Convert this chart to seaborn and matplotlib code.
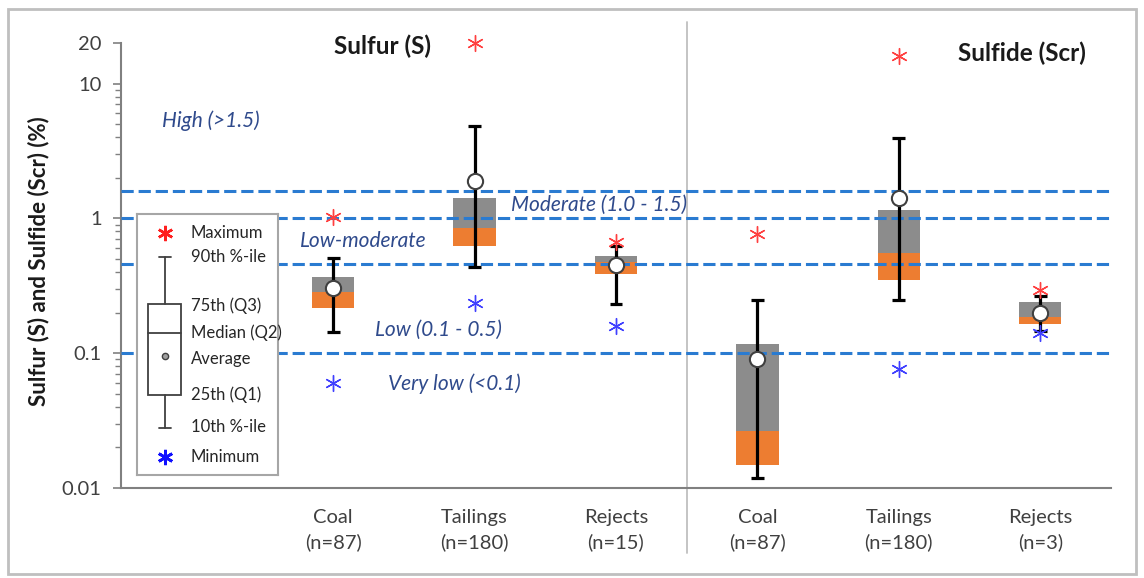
import numpy as np
import pandas as pd
import matplotlib
matplotlib.use("Agg")
import matplotlib.pyplot as plt
import matplotlib.ticker as mticker
from matplotlib.patches import Rectangle
import seaborn as sns

# ---------------- data ----------------
categories = ["Coal\n(n=87)", "Tailings\n(n=180)", "Rejects\n(n=15)",
              "Coal\n(n=87)", "Tailings\n(n=180)", "Rejects\n(n=3)"]
p10 = [0.143, 0.433, 0.23, 0.0119, 0.25, 0.147]
q1 = [0.218, 0.62, 0.384, 0.0149, 0.352, 0.166]
median = [0.282, 0.843, 0.471, 0.0267, 0.55, 0.187]
q3 = [0.365, 1.41, 0.522, 0.118, 1.15, 0.238]
p90 = [0.505, 4.82, 0.62, 0.25, 3.93, 0.264]
mean = [0.307, 1.91, 0.448, 0.0898, 1.41, 0.20]
maximum = [1.03, 20.0, 0.664, 0.76, 15.9, 0.292]
minimum = [0.0596, 0.234, 0.16, np.nan, 0.0757, 0.14]

thresholds = [1.6, 1.0, 0.455, 0.1]
ytick_vals = [0.01, 0.1, 1, 10, 20]
ytick_labels = ["0.01", "0.1", "1", "10", "20"]

df = pd.DataFrame({"cat": categories, "p10": p10, "q1": q1, "median": median,
                   "q3": q3, "p90": p90, "mean": mean, "max": maximum, "min": minimum})
df["pos"] = np.arange(len(df))

# ---------------- style ----------------
sns.set_theme(style="white")
plt.rcParams["font.family"] = ["Lato", "DejaVu Sans"]

GRAY = "#8C8C8C"
ORANGE = "#ED7D31"
DASH = "#2A7BD1"
NAVY = "#2F4A8C"
AXC = "#808080"

fig = plt.figure(figsize=(11.44, 5.78), dpi=100)
ax = fig.add_axes([121 / 1144, 1 - 488 / 578, 990 / 1144, 445 / 578])

# boxes: median->Q3 gray, Q1->median orange
ax.bar(df["pos"], df["q3"] - df["median"], bottom=df["median"], width=0.3,
       color=GRAY, linewidth=0, zorder=2)
ax.bar(df["pos"], df["median"] - df["q1"], bottom=df["q1"], width=0.3,
       color=ORANGE, linewidth=0, zorder=2)

# threshold lines
for t in thresholds:
    ax.axhline(t, color=DASH, lw=2.2, ls=(0, (4, 1.6)), zorder=3)

# whiskers
ax.vlines(df["pos"], df["p10"], df["p90"], color="black", lw=2.3, zorder=4)
cap = 0.045
ax.hlines(df["p10"], df["pos"] - cap, df["pos"] + cap, color="black", lw=2.3, zorder=4)
ax.hlines(df["p90"], df["pos"] - cap, df["pos"] + cap, color="black", lw=2.3, zorder=4)

# markers via seaborn
sns.scatterplot(data=df, x="pos", y="mean", marker="o", s=120, color="white",
                edgecolor="#404040", linewidth=1.5, zorder=6, ax=ax, legend=False)
sns.scatterplot(data=df, x="pos", y="max", marker=(6, 2, 0), s=130, color="#FF4040",
                linewidth=1.0, zorder=5, ax=ax, legend=False)
sns.scatterplot(data=df, x="pos", y="min", marker=(6, 2, 0), s=130, color="#4040FF",
                linewidth=1.0, zorder=5, ax=ax, legend=False)
for coll in ax.collections:
    coll.set_clip_on(False)

# axes
ax.set_yscale("log")
ax.set_ylim(0.01, 20)
ax.set_xlim(-1.5, 5.5)
ax.set_yticks(ytick_vals)
ax.set_yticklabels(ytick_labels)
ax.yaxis.set_minor_locator(mticker.LogLocator(base=10, subs=np.arange(2, 10)))
ax.yaxis.set_minor_formatter(mticker.NullFormatter())
ax.set_xticks(df["pos"])
ax.set_xticklabels(df["cat"], fontsize=14.5, color="#404040", linespacing=1.5)
ax.tick_params(axis="x", length=0, pad=15)
ax.tick_params(axis="y", which="major", direction="out", length=6, width=1.2,
               color=AXC, labelsize=14.5, labelcolor="#404040", pad=8, left=True)
ax.tick_params(axis="y", which="minor", direction="out", length=4, width=1.0,
               color=AXC, left=True)
for s in ["top", "right"]:
    ax.spines[s].set_visible(False)
for s in ["left", "bottom"]:
    ax.spines[s].set_color(AXC)
    ax.spines[s].set_linewidth(1.5)
ax.set_xlabel("")
ax.set_ylabel("Sulfur (S) and Sulfide (Scr) (%)", fontsize=16, fontweight="bold",
              color="#1a1a1a")
ax.yaxis.set_label_coords(-0.072, 0.51)

# separator
ax.axvline(2.5, ymin=-0.146, ymax=1.047, color="#BFBFBF", lw=1.3, clip_on=False, zorder=1)

# titles
ax.text(0.006, 18.9, "Sulfur (S)", fontsize=17.5, fontweight="bold", va="center",
        ha="left", color="#1a1a1a")
ax.text(4.42, 16.8, "Sulfide (Scr)", fontsize=17.5, fontweight="bold", va="center",
        ha="left", color="#1a1a1a")

# class annotations
ann = [("High (>1.5)", -1.21, 5.33), ("Moderate (1.0 - 1.5)", 1.258, 1.25),
       ("Low-moderate", -0.234, 0.675), ("Low (0.1 - 0.5)", 0.296, 0.148),
       ("Very low (<0.1)", 0.388, 0.0596)]
for txt, xx, yy in ann:
    ax.text(xx, yy, txt, fontsize=15, style="italic", color=NAVY, va="center",
            ha="left", zorder=7)

# ---------------- legend schematic ----------------
lg = fig.add_axes([137 / 1144, 1 - 475 / 578, 141 / 1144, 261 / 578], zorder=8)
lg.set_xlim(0, 141)
lg.set_ylim(475, 214)
lg.set_xticks([])
lg.set_yticks([])
lg.set_facecolor("white")
for s in lg.spines.values():
    s.set_color("#A6A6A6")
    s.set_linewidth(1.5)
cx = 27.5
lg.plot([cx], [233], marker=(6, 2, 0), ms=11, mew=1.8, color="#FF2020", ls="none")
lg.plot([cx], [457], marker=(6, 2, 0), ms=11, mew=2.0, color="#1010FF", ls="none")
lg.plot([cx, cx], [257, 304], color="#404040", lw=1.3)
lg.plot([cx, cx], [395, 428], color="#404040", lw=1.3)
lg.plot([cx - 6, cx + 6], [257, 257], color="#404040", lw=1.3)
lg.plot([cx - 6, cx + 6], [428, 428], color="#404040", lw=1.3)
lg.add_patch(Rectangle((11, 304), 33, 91, facecolor="white", edgecolor="#404040", lw=1.3))
lg.plot([11, 44], [333, 333], color="#404040", lw=1.3)
lg.plot([cx], [356], marker="o", ms=4.5, mfc="#A0A0A0", mec="#404040", mew=1.0, ls="none")
leg_items = [("Maximum", 233), ("90th %-ile", 257), ("75th (Q3)", 306),
             ("Median (Q2)", 333), ("Average", 359), ("25th (Q1)", 395),
             ("10th %-ile", 427), ("Minimum", 457)]
for txt, yy in leg_items:
    lg.text(54, yy, txt, fontsize=12, color="#262626", va="center", ha="left")

# figure frame
fig.patches.append(Rectangle((8 / 1144, 1 - 574 / 578), 1128 / 1144, 565 / 578,
                             transform=fig.transFigure, fill=False,
                             edgecolor="#BFBFBF", lw=2.0))

fig.savefig("out.png", dpi=100)
